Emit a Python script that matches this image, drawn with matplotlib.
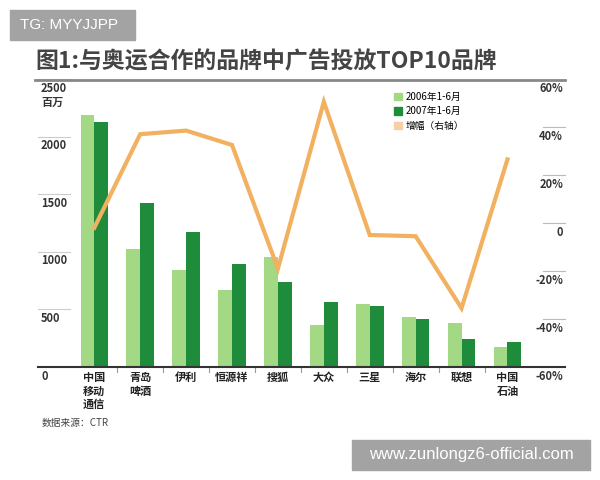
import matplotlib
matplotlib.use("Agg")
import matplotlib.pyplot as plt
import numpy as np
from matplotlib.lines import Line2D
from matplotlib.patches import Patch, Rectangle
import matplotlib.transforms as mtransforms

plt.rcParams['font.family'] = ['Noto Sans CJK SC', 'DejaVu Sans']

categories = ["中国\n移动\n通信", "青岛\n啤酒", "伊利", "恒源祥", "搜狐", "大众", "三星", "海尔", "联想", "中国\n石油"]
values_2006 = [2187, 1028, 845, 672, 951, 368, 549, 434, 385, 170]
values_2007 = [2129, 1420, 1175, 894, 735, 563, 528, 420, 247, 213]
growth = [-2, 37, 38.5, 32.5, -19, 50.5, -5, -5.5, -35.5, 26.5]
left_ticks = [0, 500, 1000, 1500, 2000, 2500]
left_tick_labels = ["0", "500", "1000", "1500", "2000", "2500"]
right_ticks = [-60, -40, -20, 0, 20, 40, 60]
right_tick_labels = ["-60%", "-40%", "-20%", "0", "20%", "40%", "60%"]
legend_labels = ["2006年1-6月", "2007年1-6月", "增幅（右轴）"]

W, H = 600, 480
fig = plt.figure(figsize=(6, 4.8), dpi=100)
fig.patch.set_facecolor("white")

def fx(px):
    return px / W

def fy(py):
    return 1 - py / H

ax = fig.add_axes([fx(75), fy(367), fx(535) - fx(75), fy(79) - fy(367)])
ax.set_xlim(-0.42, 9.6)
ax.set_ylim(0, 2500)
ax.axis("off")

light = "#a3d884"
dark = "#1e8c3a"
orange = "#f2b160"

x = np.arange(len(categories))
w = 0.30
ax.bar(x - w / 2, values_2006, w, color=light, zorder=2)
ax.bar(x + w / 2, values_2007, w, color=dark, zorder=2)

ax2 = ax.twinx()
ax2.set_ylim(-60, 60)
ax2.axis("off")
ax2.plot(x, growth, color=orange, lw=3, zorder=3, solid_joinstyle="miter")

# Title and rule
fig.text(fx(35), fy(62), "图1:与奥运合作的品牌中广告投放TOP10品牌", fontsize=16.5,
         fontweight="bold", color="#444444", va="center", ha="left")
fig.add_artist(Line2D([fx(35), fx(565)], [fy(80), fy(80)], color="#888888", lw=2))
# baseline
fig.add_artist(Line2D([fx(38), fx(565)], [fy(367), fy(367)], color="#333333", lw=1.5))

# left tick labels
trans_l = mtransforms.blended_transform_factory(fig.transFigure, ax.transData)
off_l = mtransforms.offset_copy(trans_l, fig=fig, x=0, y=-6.5, units="points")
for v, lab in zip(left_ticks, left_tick_labels):
    ax.text(fx(41), v, lab, transform=off_l, fontsize=8, ha="left", va="center",
            color="#333333", fontweight="bold", clip_on=False)
    if v > 0:
        ax.add_line(Line2D([fx(38), fx(70)], [v, v], transform=trans_l, color="#cccccc",
                           lw=0.8, clip_on=False))
ax.text(fx(41), 2500, "百万", transform=mtransforms.offset_copy(trans_l, fig=fig, x=0, y=-17, units="points"),
        fontsize=8, ha="left", va="center", color="#333333", fontweight="bold", clip_on=False)

# right tick labels
trans_r = mtransforms.blended_transform_factory(fig.transFigure, ax2.transData)
off_r = mtransforms.offset_copy(trans_r, fig=fig, x=0, y=-7, units="points")
for v, lab in zip(right_ticks, right_tick_labels):
    ax2.text(fx(563), v, lab, transform=off_r, fontsize=8, ha="right", va="center",
             color="#333333", fontweight="bold", clip_on=False)
    if v > -60 and v < 60:
        ax2.add_line(Line2D([fx(543), fx(565)], [v, v], transform=trans_r, color="#bbbbbb",
                            lw=0.8, clip_on=False))

# category labels
off_c = mtransforms.offset_copy(ax.transData, fig=fig, x=0, y=-3, units="points")
for xi, c in zip(x, categories):
    ax.text(xi, 0, c, transform=off_c, fontsize=8, ha="center", va="top",
            color="#222222", fontweight="bold", linespacing=1.05, clip_on=False)
# small separators between groups
for xi in x[:-1]:
    ax.add_line(Line2D([xi + 0.5, xi + 0.5], [0, -40], color="#999999", lw=0.8, clip_on=False))

# source
fig.text(fx(42), fy(423), "数据来源：CTR", fontsize=7, color="#444444", va="center", ha="left")

# legend
handles = [Patch(color=light), Patch(color=dark), Patch(color="#f5cfa5")]
fig.legend(handles, legend_labels, loc="upper left", bbox_to_anchor=(fx(390), fy(88)),
           frameon=False, fontsize=7, handlelength=0.8, handleheight=0.8,
           handletextpad=0.4, labelspacing=0.45, borderaxespad=0)

# watermark boxes
fig.add_artist(Rectangle((fx(10), fy(40)), fx(135) - fx(10), fy(10) - fy(40),
                         color="#a3a3a3", transform=fig.transFigure))
fig.text(fx(20), fy(25), "TG: MYYJJPP", fontsize=11, color="white", va="center", ha="left",
         family=["Liberation Sans", "DejaVu Sans"])
fig.add_artist(Rectangle((fx(352), fy(470)), fx(590) - fx(352), fy(440) - fy(470),
                         color="#a3a3a3", transform=fig.transFigure))
fig.text(fx(471), fy(455), "www.zunlongz6-official.com", fontsize=12, color="white",
         va="center", ha="center", family=["Liberation Sans", "DejaVu Sans"])

fig.savefig("out.png", dpi=100)
